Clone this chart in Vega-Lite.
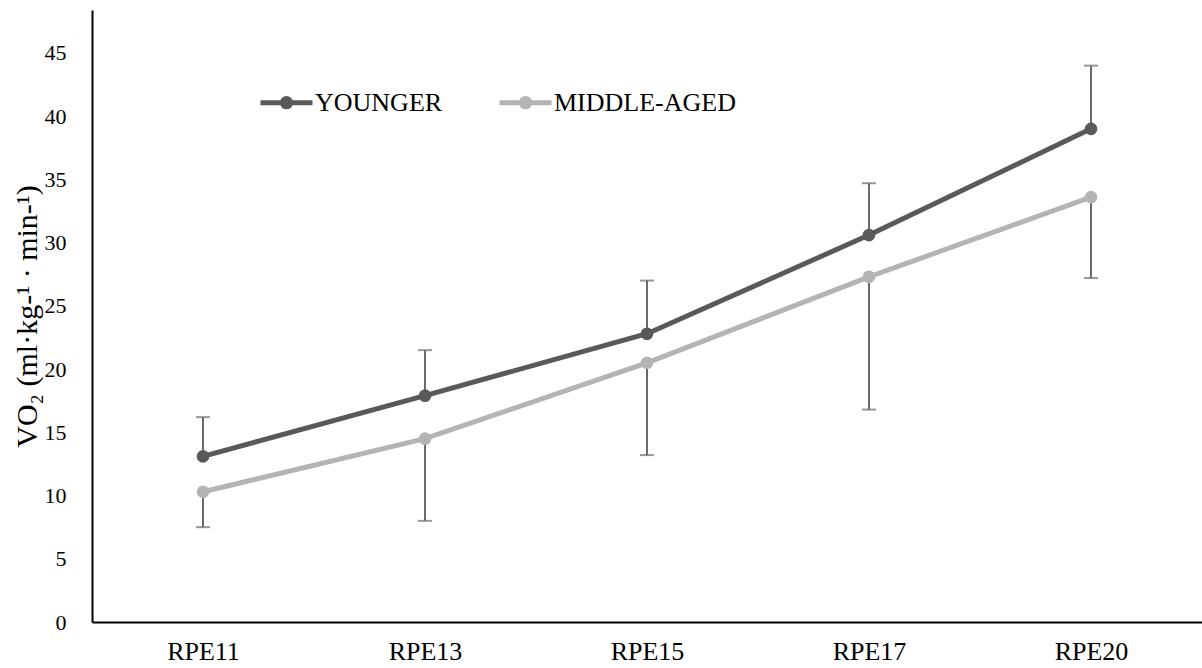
{
  "$schema": "https://vega.github.io/schema/vega-lite/v6.json",
  "width": 1110,
  "height": 612,
  "autosize": "none",
  "padding": {"left": 92, "top": 10, "right": 0, "bottom": 46},
  "background": "white",
  "config": {
    "font": "Liberation Serif",
    "view": {"stroke": null},
    "axis": {
      "grid": false,
      "ticks": false,
      "domainColor": "#000000",
      "domainWidth": 2,
      "labelColor": "#000000",
      "labelFont": "Liberation Serif",
      "titleFont": "Liberation Serif",
      "titleColor": "#000000",
      "titleFontWeight": "normal"
    }
  },
  "data": {
    "values": [
      {"group": "YOUNGER", "rpe": "RPE11", "mean": 13.1, "err": 16.2},
      {"group": "YOUNGER", "rpe": "RPE13", "mean": 17.9, "err": 21.5},
      {"group": "YOUNGER", "rpe": "RPE15", "mean": 22.8, "err": 27.0},
      {"group": "YOUNGER", "rpe": "RPE17", "mean": 30.6, "err": 34.7},
      {"group": "YOUNGER", "rpe": "RPE20", "mean": 39.0, "err": 44.0},
      {"group": "MIDDLE-AGED", "rpe": "RPE11", "mean": 10.3, "err": 7.5},
      {"group": "MIDDLE-AGED", "rpe": "RPE13", "mean": 14.5, "err": 8.0},
      {"group": "MIDDLE-AGED", "rpe": "RPE15", "mean": 20.5, "err": 13.2},
      {"group": "MIDDLE-AGED", "rpe": "RPE17", "mean": 27.3, "err": 16.8},
      {"group": "MIDDLE-AGED", "rpe": "RPE20", "mean": 33.6, "err": 27.2}
    ]
  },
  "encoding": {
    "x": {
      "field": "rpe",
      "type": "nominal",
      "sort": ["RPE11", "RPE13", "RPE15", "RPE17", "RPE20"],
      "scale": {"type": "point", "padding": 0.5},
      "axis": {"title": null, "labelAngle": 0, "labelFontSize": 26, "labelPadding": 16}
    }
  },
  "layer": [
    {
      "mark": {"type": "rule", "color": "#6b6b6b", "strokeWidth": 2},
      "encoding": {
        "y": {
          "field": "mean",
          "type": "quantitative",
          "scale": {"domain": [0, 48.4], "nice": false, "zero": true},
          "axis": {
            "title": "VO₂ (ml·kg-¹ · min-¹)",
            "values": [0, 5, 10, 15, 20, 25, 30, 35, 40, 45],
            "labelFontSize": 22,
            "labelPadding": 26,
            "titleFontSize": 30,
            "titlePadding": 2
          }
        },
        "y2": {"field": "err"}
      }
    },
    {
      "mark": {"type": "tick", "color": "#6b6b6b", "thickness": 2, "size": 14},
      "encoding": {
        "y": {"field": "err", "type": "quantitative", "title": "VO₂ (ml·kg-¹ · min-¹)"}
      }
    },
    {
      "mark": {"type": "line", "strokeWidth": 5},
      "encoding": {
        "y": {"field": "mean", "type": "quantitative", "title": "VO₂ (ml·kg-¹ · min-¹)"},
        "color": {
          "field": "group",
          "type": "nominal",
          "scale": {"domain": ["YOUNGER", "MIDDLE-AGED"], "range": ["#595959", "#b4b4b4"]},
          "legend": {
            "orient": "none",
            "legendX": 166,
            "legendY": 64,
            "direction": "horizontal",
            "title": null,
            "padding": 0,
            "symbolType": "M-1,0H1M-0.16,0A0.16,0.16,0,1,0,0.16,0A0.16,0.16,0,1,0,-0.16,0Z",
            "symbolSize": 2704,
            "symbolStrokeWidth": 5,
            "symbolOpacity": 1,
            "labelFont": "Liberation Serif",
            "labelFontSize": 26,
            "labelLimit": 400,
            "labelColor": "#000000",
            "labelOffset": 0,
            "columnPadding": 46,
            "encode": {
              "symbols": {
                "update": {
                  "fill": {"scale": "color", "field": "value"},
                  "stroke": {"scale": "color", "field": "value"}
                }
              }
            }
          }
        }
      }
    },
    {
      "mark": {"type": "point", "filled": true, "size": 160, "opacity": 1},
      "encoding": {
        "y": {"field": "mean", "type": "quantitative", "title": "VO₂ (ml·kg-¹ · min-¹)"},
        "color": {"field": "group", "type": "nominal", "legend": null}
      }
    }
  ]
}
